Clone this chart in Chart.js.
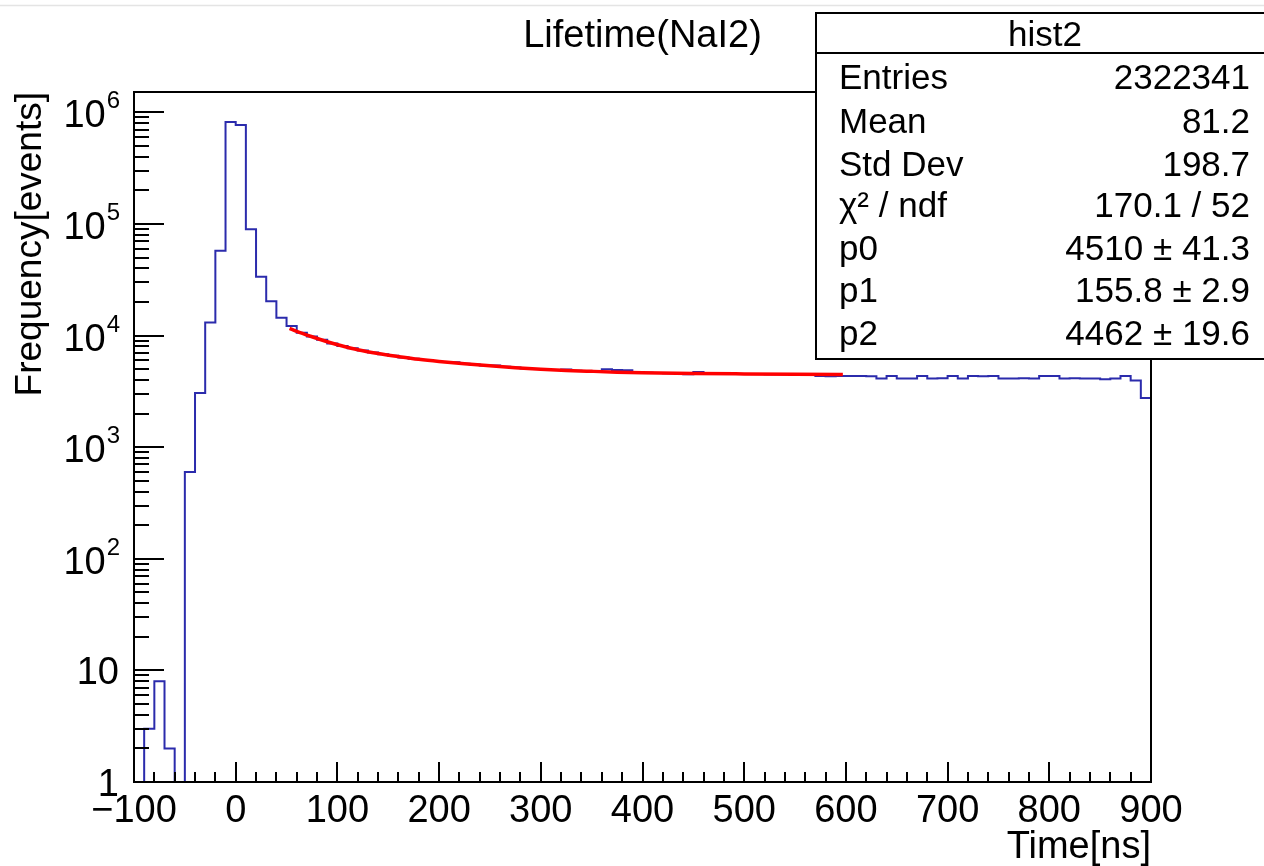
<!DOCTYPE html>
<html><head><meta charset="utf-8">
<script src="https://cdn.jsdelivr.net/npm/chart.js@4.4.1/dist/chart.umd.min.js"></script>
<style>html,body{margin:0;padding:0;background:#fff;overflow:hidden}canvas{display:block}</style>
</head><body>
<canvas id="c" width="1264" height="866"></canvas>
<script>
// ---- data ----
const binStarts = [-100,-90,-80,-70,-60,-50,-40,-30,-20,-10,
  0,10,20,30,40,50,60,70,80,90,
  100,110,120,130,140,150,160,170,180,190,
  200,210,220,230,240,250,260,270,280,290,
  300,310,320,330,340,350,360,370,380,390,
  400,410,420,430,440,450,460,470,480,490,
  500,510,520,530,540,550,560,570,580,590,
  600,610,620,630,640,650,660,670,680,690,
  700,710,720,730,740,750,760,770,780,790,
  800,810,820,830,840,850,860,870,880,890];
const histEnd = 900;
const binCounts = [0,3,8,2,0,600,3060,13100,57600,820000,
  770000,89500,33700,20300,14400,12200,10600,9800,9150,8480,
  8050,7680,7350,7050,6790,6600,6370,6210,6040,5920,
  5790,5760,5600,5500,5400,5380,5240,5160,5060,5020,
  4960,4910,4950,4840,4810,4760,4990,4900,4880,4660,
  4640,4620,4600,4590,4500,4720,4610,4550,4540,4530,
  4525,4520,4510,4510,4500,4500,4490,4330,4320,4340,
  4330,4340,4320,4130,4330,4130,4120,4330,4130,4140,
  4340,4130,4330,4320,4340,4130,4120,4140,4130,4330,
  4340,4130,4140,4120,4130,4050,4130,4330,3950,2750];
const fitX = [53,60,75,90,105,120,140,160,180,200,225,250,275,300,325,350,375,400,450,500,550,597];
const fitY = [11600,10900,9750,8800,8050,7450,6900,6480,6120,5850,5580,5350,5150,4990,4870,4780,4700,4640,4570,4530,4500,4480];

const xTickValues = [-100,0,100,200,300,400,500,600,700,800,900];
const xTickLabels = ['\u2212100','0','100','200','300','400','500','600','700','800','900'];
const yTickExponents = [0,1,2,3,4,5,6];
const xRange = [-100, 900];
const yRange = [1, 1.52e6];

const chartTitle = 'Lifetime(NaI2)';
const xTitle = 'Time[ns]';
const yTitle = 'Frequency[events]';
const statTitle = 'hist2';
const statLabels = ['Entries','Mean','Std Dev','\u03c7\u00b2 / ndf','p0','p1','p2'];
const statValues = ['2322341','81.2','198.7','170.1 / 52','4510 \u00b1 41.3','155.8 \u00b1 2.9','4462 \u00b1 19.6'];

// ---- style ----
const FONT = '"Liberation Sans", Arial, Helvetica, sans-serif';
const HIST_COLOR = '#2b2bac';
const FIT_COLOR = '#ff0000';

const histPoints = binStarts.map((x, i) => ({x: x, y: Math.max(binCounts[i], yRange[0])}));
histPoints.push({x: histEnd, y: Math.max(binCounts[binCounts.length - 1], yRange[0])});
const fitPoints = fitX.map((x, i) => ({x: x, y: fitY[i]}));

const rootStyle = {
  id: 'rootStyle',
  beforeDraw(chart) {
    const ctx = chart.ctx;
    ctx.save();
    ctx.fillStyle = '#ffffff';
    ctx.fillRect(0, 0, chart.width, chart.height);
    ctx.strokeStyle = '#e4e4e4';
    ctx.lineWidth = 1.5;
    ctx.beginPath(); ctx.moveTo(0, 5.5); ctx.lineTo(chart.width, 5.5); ctx.stroke();
    ctx.restore();
  },
  afterDraw(chart) {
    const ctx = chart.ctx;
    const a = chart.chartArea;
    const xs = chart.scales.x, ys = chart.scales.y;
    ctx.save();
    ctx.strokeStyle = '#000';
    ctx.fillStyle = '#000';
    ctx.lineWidth = 2;
    // frame
    ctx.strokeRect(a.left, a.top, a.right - a.left, a.bottom - a.top);
    // x ticks (major every 100, minor every 20) pointing into the frame
    ctx.beginPath();
    for (let v = xRange[0]; v <= xRange[1]; v += 20) {
      const px = Math.round(xs.getPixelForValue(v));
      const len = (v % 100 === 0) ? 20 : 10;
      ctx.moveTo(px, a.bottom); ctx.lineTo(px, a.bottom - len);
    }
    // y ticks (log: decades major, 2..9 minor)
    for (let e = 0; e <= 6; e++) {
      for (let m = 1; m <= 9; m++) {
        const v = m * Math.pow(10, e);
        if (v > yRange[1]) break;
        const py = Math.round(ys.getPixelForValue(v));
        const len = (m === 1) ? 30 : 15;
        ctx.moveTo(a.left, py); ctx.lineTo(a.left + len, py);
      }
    }
    ctx.stroke();

    // x tick labels
    ctx.font = '38px ' + FONT;
    ctx.textAlign = 'center';
    ctx.textBaseline = 'alphabetic';
    xTickValues.forEach((v, i) => {
      ctx.fillText(xTickLabels[i], xs.getPixelForValue(v), a.bottom + 40);
    });
    // y tick labels
    const labRight = 120;
    yTickExponents.forEach(e => {
      const py = ys.getPixelForValue(Math.pow(10, e));
      ctx.textAlign = 'right';
      if (e === 0) {
        ctx.font = '38px ' + FONT;
        ctx.fillText('1', labRight - 1, py + 14);
      } else if (e === 1) {
        ctx.font = '38px ' + FONT;
        ctx.fillText('10', labRight - 1, py + 14);
      } else {
        ctx.font = '24px ' + FONT;
        const sup = String(e);
        const sw = ctx.measureText(sup).width;
        ctx.fillText(sup, labRight, py - 4);
        ctx.font = '38px ' + FONT;
        ctx.fillText('10', labRight - sw - 1, py + 15);
      }
    });
    // title
    ctx.font = '38px ' + FONT;
    ctx.textAlign = 'center';
    ctx.fillText(chartTitle, (a.left + a.right) / 2, 47);
    // x title
    ctx.textAlign = 'right';
    ctx.fillText(xTitle, a.right, 858);
    // y title
    ctx.save();
    ctx.translate(41, a.top);
    ctx.rotate(-Math.PI / 2);
    ctx.font = '37px ' + FONT;
    ctx.textAlign = 'right';
    ctx.fillText(yTitle, 0, 0);
    ctx.restore();

    // stat box
    const bx = 816, by = 13, bw = 460, bh = 346;
    ctx.fillStyle = '#fff';
    ctx.fillRect(bx, by, bw, bh);
    ctx.strokeStyle = '#000';
    ctx.lineWidth = 2;
    ctx.strokeRect(bx, by, bw, bh);
    ctx.beginPath(); ctx.moveTo(bx, 53); ctx.lineTo(bx + bw, 53); ctx.stroke();
    ctx.fillStyle = '#000';
    ctx.font = '35px ' + FONT;
    ctx.textAlign = 'center';
    ctx.fillText(statTitle, 1045, 46);
    const rowBase = [89, 133, 176, 217, 260, 302, 345];
    statLabels.forEach((lab, i) => {
      ctx.textAlign = 'left';
      ctx.fillText(lab, 839, rowBase[i]);
      ctx.textAlign = 'right';
      ctx.fillText(statValues[i], 1250, rowBase[i]);
    });
    ctx.restore();
  }
};

new Chart(document.getElementById('c').getContext('2d'), {
  type: 'line',
  data: {
    datasets: [
      {label: 'fit', data: fitPoints, borderColor: FIT_COLOR, borderWidth: 3.5, pointRadius: 0,
       fill: false, cubicInterpolationMode: 'monotone', order: 0},
      {label: statTitle, data: histPoints, borderColor: HIST_COLOR, borderWidth: 2, pointRadius: 0,
       fill: false, stepped: true, order: 1}
    ]
  },
  options: {
    responsive: false,
    animation: false,
    devicePixelRatio: 1,
    layout: {padding: {left: 134, top: 92, right: 113, bottom: 84}},
    plugins: {legend: {display: false}, tooltip: {enabled: false}, title: {display: false}},
    scales: {
      x: {type: 'linear', min: xRange[0], max: xRange[1], display: false},
      y: {type: 'logarithmic', min: yRange[0], max: yRange[1], display: false}
    }
  },
  plugins: [rootStyle]
});
</script>
</body></html>
